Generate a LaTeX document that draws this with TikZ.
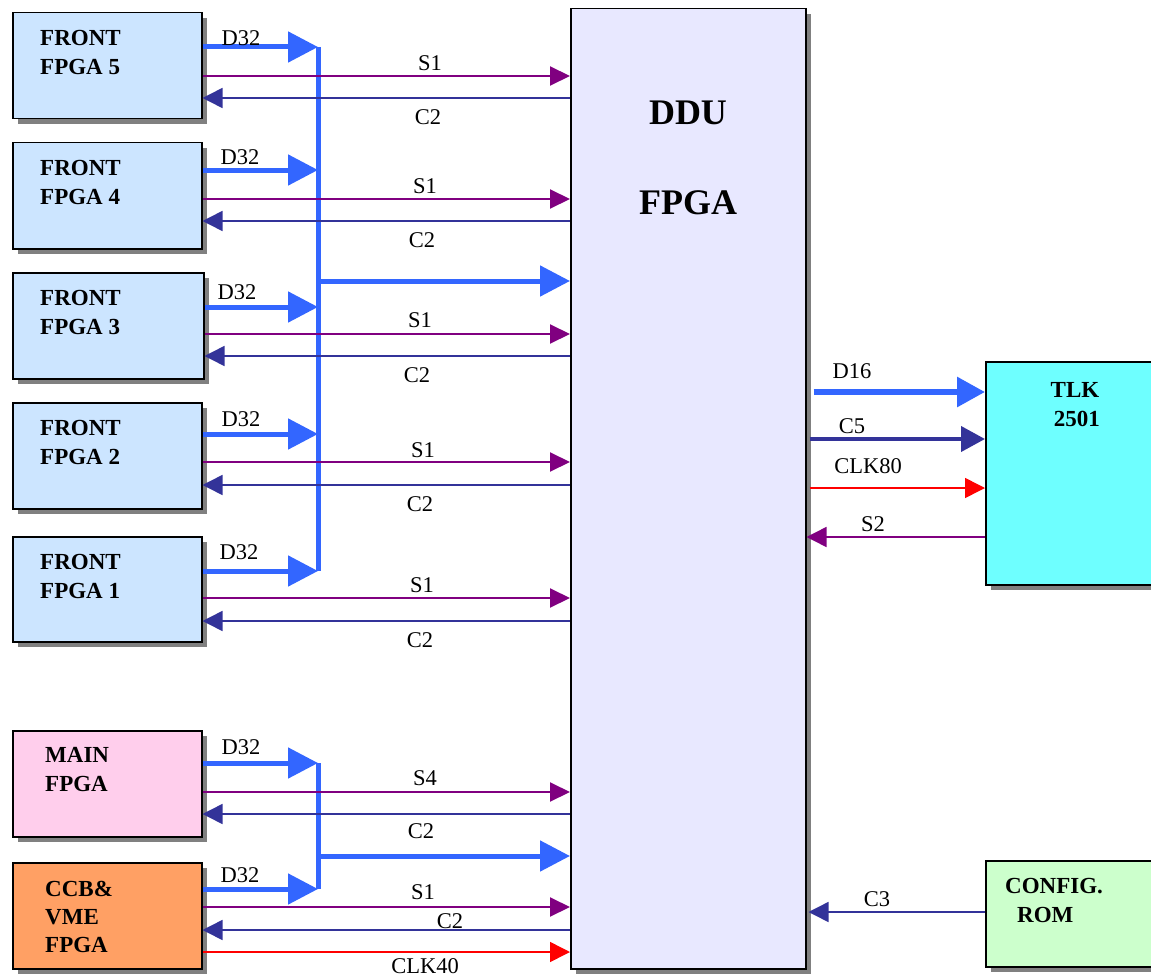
\documentclass[tikz,border=0pt]{standalone}
\usepackage{fontspec}
\setmainfont{Liberation Serif}
\usetikzlibrary{arrows.meta,shadows}
\definecolor{busblue}{RGB}{51,102,255}
\definecolor{sigpurple}{RGB}{128,0,128}
\definecolor{ctlnavy}{RGB}{51,51,153}
\definecolor{frontblue}{RGB}{204,229,255}
\definecolor{mainpink}{RGB}{255,206,236}
\definecolor{ccborange}{RGB}{255,160,100}
\definecolor{ddulav}{RGB}{232,232,255}
\definecolor{tlkcyan}{RGB}{110,255,255}
\definecolor{romgreen}{RGB}{204,255,204}
\tikzset{
  lbl/.style={inner sep=0, font=\fontsize{22.5}{26}\selectfont},
  ttl/.style={font=\fontsize{23}{29}\selectfont\bfseries, align=left, anchor=north west, inner sep=0},
  bigttl/.style={font=\fontsize{36}{40}\selectfont\bfseries, inner sep=0},
  blk/.style={draw=black, line width=1.5pt, inner sep=0, anchor=north west,
    drop shadow={shadow xshift=5pt, shadow yshift=-5pt, fill=black!50, opacity=1}},
  busline/.style={draw=busblue, line width=5pt},
  darrow/.style={busblue, line width=5pt, -{Triangle[length=30pt,width=30pt]}},
  sarrow/.style={sigpurple, line width=2pt, -{Triangle[length=20pt,width=19pt]}},
  carrow/.style={ctlnavy, line width=1.5pt, -{Triangle[length=20pt,width=20pt]}},
  clkarrow/.style={red, line width=1.5pt, -{Triangle[length=20pt,width=20pt]}},
}
\begin{document}
\begin{tikzpicture}[x=1pt,y=-1pt]
\useasboundingbox (0,0) rectangle (1151,979);
% blocks
\node[blk, fill=ddulav, minimum width=235pt, minimum height=960pt] (ddu) at (570,8) {};
\node[blk, fill=frontblue, minimum width=189pt, minimum height=106pt] (f5) at (12,12) {};
\node[blk, fill=frontblue, minimum width=189pt, minimum height=106pt] (f4) at (12,142) {};
\node[blk, fill=frontblue, minimum width=191pt, minimum height=106pt] (f3) at (12,272) {};
\node[blk, fill=frontblue, minimum width=189pt, minimum height=106pt] (f2) at (12,402) {};
\node[blk, fill=frontblue, minimum width=189pt, minimum height=105pt] (f1) at (12,536) {};
\node[blk, fill=mainpink, minimum width=189pt, minimum height=106pt] (mf) at (12,730) {};
\node[blk, fill=ccborange, minimum width=189pt, minimum height=106pt] (ccb) at (12,862) {};
\node[blk, fill=tlkcyan, minimum width=190pt, minimum height=223pt] (tlk) at (985,361) {};
\node[blk, fill=romgreen, minimum width=190pt, minimum height=106pt] (rom) at (985,860) {};
% titles
\node[ttl] (t5) at (40,30.5) {FRONT\\FPGA 5};
\node[ttl] (t4) at (40,160.5) {FRONT\\FPGA 4};
\node[ttl] (t3) at (40,290.5) {FRONT\\FPGA 3};
\node[ttl] (t2) at (40,420.5) {FRONT\\FPGA 2};
\node[ttl] (t1) at (40,554.5) {FRONT\\FPGA 1};
\node[ttl] (tm) at (45,747.5) {MAIN\\FPGA};
\node[ttl, font=\fontsize{23}{28}\selectfont\bfseries] (tc) at (45,880.5) {CCB\&\\VME\\FPGA};
\node[bigttl] (td1) at (688,113) {DDU};
\node[bigttl] (td2) at (688,203) {FPGA};
\node[ttl, align=center, anchor=north] (tt) at (1075,382) {TLK\\ \,2501};
\node[ttl] (tr) at (1005,878) {CONFIG.\\ \hspace{12pt}ROM};
% bus coordinates
\coordinate (b5) at (318,47);
\coordinate (b4) at (318,170);
\coordinate (b3) at (318,307);
\coordinate (b2) at (318,434);
\coordinate (b1) at (318,571);
\coordinate (bx) at (318,281);
\coordinate (bm) at (318,763);
\coordinate (bc) at (318,889);
\coordinate (by) at (318,856);
\draw[busline] (b5) -- (b1);
\draw[busline] (bm) -- (bc);
\draw[darrow] (f5.east |- b5) -- (b5);
\draw[darrow] (f4.east |- b4) -- (b4);
\draw[darrow] (f3.east |- b3) -- (b3);
\draw[darrow] (f2.east |- b2) -- (b2);
\draw[darrow] (f1.east |- b1) -- (b1);
\draw[darrow] (mf.east |- bm) -- (bm);
\draw[darrow] (ccb.east |- bc) -- (bc);
\draw[darrow] (bx) -- (ddu.west |- bx);
\draw[darrow] (by) -- (ddu.west |- by);
% signal lines
\draw[sarrow] (f5.east |- 0,76) -- (ddu.west |- 0,76);
\draw[carrow] (ddu.west |- 0,98) -- (f5.east |- 0,98);
\draw[sarrow] (f4.east |- 0,199) -- (ddu.west |- 0,199);
\draw[carrow] (ddu.west |- 0,221) -- (f4.east |- 0,221);
\draw[sarrow] (f3.east |- 0,334) -- (ddu.west |- 0,334);
\draw[carrow] (ddu.west |- 0,356) -- (f3.east |- 0,356);
\draw[sarrow] (f2.east |- 0,462) -- (ddu.west |- 0,462);
\draw[carrow] (ddu.west |- 0,485) -- (f2.east |- 0,485);
\draw[sarrow] (f1.east |- 0,598) -- (ddu.west |- 0,598);
\draw[carrow] (ddu.west |- 0,621) -- (f1.east |- 0,621);
\draw[sarrow] (mf.east |- 0,792) -- (ddu.west |- 0,792);
\draw[carrow] (ddu.west |- 0,814) -- (mf.east |- 0,814);
\draw[sarrow] (ccb.east |- 0,907) -- (ddu.west |- 0,907);
\draw[carrow] (ddu.west |- 0,930) -- (ccb.east |- 0,930);
\draw[clkarrow] (ccb.east |- 0,952) -- (ddu.west |- 0,952);
% right side
\draw[busblue, line width=6pt, -{Triangle[length=28pt,width=29pt]}] ([xshift=7pt]ddu.east |- 0,392) -- (tlk.west |- 0,392);
\draw[ctlnavy, line width=4pt, -{Triangle[length=24pt,width=25pt]}] ([xshift=3pt]ddu.east |- 0,439) -- (tlk.west |- 0,439);
\draw[clkarrow] ([xshift=3pt]ddu.east |- 0,488) -- (tlk.west |- 0,488);
\draw[sarrow, line width=1.5pt, -{Triangle[length=20pt,width=20pt]}] (tlk.west |- 0,537) -- (ddu.east |- 0,537);
\draw[carrow] (rom.west |- 0,912) -- ([xshift=2pt]ddu.east |- 0,912);
% labels
\node[lbl] (l5d) at (241,38) {D32};
\node[lbl] (l5s) at (430,63) {S1};
\node[lbl] (l5c) at (428,117) {C2};
\node[lbl] (l4d) at (240,157) {D32};
\node[lbl] (l4s) at (425,186) {S1};
\node[lbl] (l4c) at (422,240) {C2};
\node[lbl] (l3d) at (237,292) {D32};
\node[lbl] (l3s) at (420,320) {S1};
\node[lbl] (l3c) at (417,375) {C2};
\node[lbl] (l2d) at (241,419) {D32};
\node[lbl] (l2s) at (423,450) {S1};
\node[lbl] (l2c) at (420,504) {C2};
\node[lbl] (l1d) at (239,552) {D32};
\node[lbl] (l1s) at (422,585) {S1};
\node[lbl] (l1c) at (420,640) {C2};
\node[lbl] (lmd) at (241,747) {D32};
\node[lbl] (lms) at (425,778) {S4};
\node[lbl] (lmc) at (421,831) {C2};
\node[lbl] (lcd) at (240,875) {D32};
\node[lbl] (lcs) at (423,892) {S1};
\node[lbl] (lcc) at (450,921) {C2};
\node[lbl] (lck) at (425,966) {CLK40};
\node[lbl] (ld16) at (852,371) {D16};
\node[lbl] (lc5) at (852,426) {C5};
\node[lbl] (lk80) at (868,466) {CLK80};
\node[lbl] (ls2) at (873,524) {S2};
\node[lbl] (lc3) at (877,899) {C3};
\end{tikzpicture}
\end{document}
